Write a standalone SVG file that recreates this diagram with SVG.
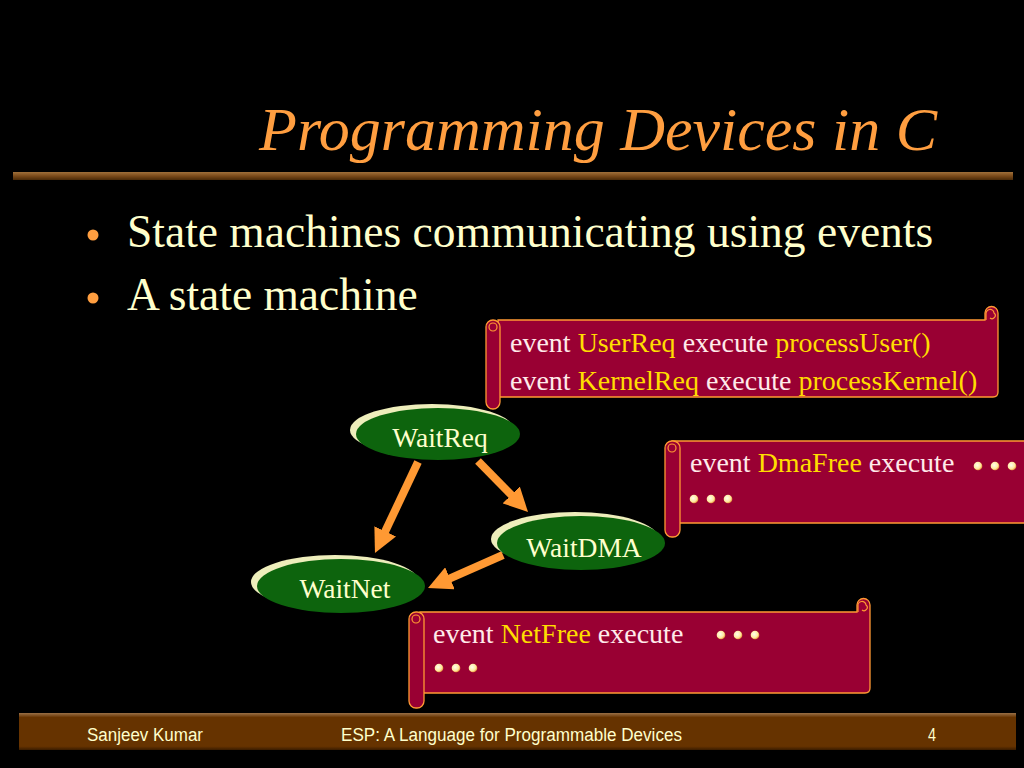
<svg xmlns="http://www.w3.org/2000/svg" width="1024" height="768" viewBox="0 0 1024 768">
<defs>
<linearGradient id="rule" x1="0" y1="0" x2="0" y2="1">
<stop offset="0" stop-color="#a0703a"/><stop offset="0.5" stop-color="#7a4a1a"/><stop offset="1" stop-color="#4a2a08"/>
</linearGradient>
<linearGradient id="foot" x1="0" y1="0" x2="0" y2="1">
<stop offset="0" stop-color="#9a7046"/><stop offset="0.12" stop-color="#663300"/><stop offset="0.9" stop-color="#663300"/><stop offset="1" stop-color="#3a1c00"/>
</linearGradient>
<radialGradient id="dot" cx="0.4" cy="0.4" r="0.6">
<stop offset="0" stop-color="#ffffee"/><stop offset="0.7" stop-color="#ffe8a0"/><stop offset="1" stop-color="#e89a40"/>
</radialGradient>
<marker id="ah" viewBox="0 0 10 10" refX="1" refY="5" markerWidth="3" markerHeight="3" orient="auto" markerUnits="strokeWidth">
<path d="M0,0 L10,5 L0,10 z" fill="#ff9933"/>
</marker>
</defs>
<style>
.ser{font-family:"Liberation Serif","Times New Roman",serif}
.title{font-style:italic;font-size:62px;fill:#ff9e40}
.bul{font-size:45.5px;fill:#ffffcc}
.bdot{fill:#ff9e40}
.scroll{fill:#990033;stroke:#ff9933;stroke-width:1.3}
.curl{fill:none;stroke:#ff9933;stroke-width:1.2}
.st{font-size:28px;fill:#ffeaea}
.hl{fill:#ffdd00}
.dot{fill:url(#dot)}
.hi{fill:#eeeebb}
.node{fill:#0d640d}
.nt{font-size:27.5px;fill:#ffffcc;text-anchor:middle}
.arr{stroke:#ff9933;stroke-width:8;fill:none;marker-end:url(#ah)}
.ft{font-family:"Liberation Sans",Arial,sans-serif;font-size:18px;fill:#ffffcc}
</style>
<rect width="1024" height="768" fill="#000"/>

<text class="ser title" x="937" y="150" text-anchor="end">Programming Devices in C</text>
<rect x="13" y="172" width="1000" height="8" fill="url(#rule)"/>

<circle class="bdot" cx="93" cy="235" r="5.5"/>
<text class="ser bul" x="127" y="247">State machines communicating using events</text>
<circle class="bdot" cx="93" cy="298" r="5.5"/>
<text class="ser bul" x="127" y="310">A state machine</text>

<g id="scroll1">
<path class="scroll" d="M985,320 L985,313 A6.5,6.5 0 0 1 998,313 L998,392 Q998,397 993,397 L498,397 L498,320 Z"/>
<path class="curl" d="M986,320 L986,314 A4,4 0 0 1 994,313 A3,3 0 0 1 990,318"/>
<rect class="scroll" x="486" y="320" width="14" height="89" rx="7"/>
<circle class="curl" cx="493" cy="327" r="4"/>
<text class="ser st" x="510" y="352">event <tspan class="hl">UserReq</tspan> execute <tspan class="hl">processUser()</tspan></text>
<text class="ser st" x="510" y="390">event <tspan class="hl">KernelReq</tspan> execute <tspan class="hl">processKernel()</tspan></text>
</g>

<g id="scroll2">
<path class="scroll" d="M672,441 L1030,441 L1030,523 L672,523 Z"/>
<rect class="scroll" x="665" y="441" width="15" height="96" rx="7"/>
<circle class="curl" cx="672" cy="448" r="4"/>
<text class="ser st" x="690" y="472">event <tspan class="hl">DmaFree</tspan> execute</text>
<circle class="dot" cx="978" cy="466" r="4.3"/>
<circle class="dot" cx="995" cy="466" r="4.3"/>
<circle class="dot" cx="1012" cy="466" r="4.3"/>
<circle class="dot" cx="694" cy="499" r="4.3"/>
<circle class="dot" cx="711" cy="499" r="4.3"/>
<circle class="dot" cx="728" cy="499" r="4.3"/>
</g>

<g id="scroll3">
<path class="scroll" d="M857,612 L857,605 A6.5,6.5 0 0 1 870,605 L870,688 Q870,693 865,693 L420,693 L420,612 Z"/>
<path class="curl" d="M858,612 L858,606 A4,4 0 0 1 866,605 A3,3 0 0 1 862,610"/>
<rect class="scroll" x="409" y="612" width="15" height="96" rx="7"/>
<circle class="curl" cx="416" cy="619" r="4"/>
<text class="ser st" x="433" y="643">event <tspan class="hl">NetFree</tspan> execute</text>
<circle class="dot" cx="721" cy="635" r="4.3"/>
<circle class="dot" cx="738" cy="635" r="4.3"/>
<circle class="dot" cx="755" cy="635" r="4.3"/>
<circle class="dot" cx="439" cy="668" r="4.3"/>
<circle class="dot" cx="456" cy="668" r="4.3"/>
<circle class="dot" cx="473" cy="668" r="4.3"/>
</g>

<g id="connectors">
<line class="arr" x1="418" y1="462" x2="384.2" y2="533.5"/>
<line class="arr" x1="478" y1="461" x2="512.9" y2="496.6"/>
<line class="arr" x1="503" y1="555" x2="447.8" y2="579.3"/>
</g>

<g id="WaitReq">
<ellipse class="hi" cx="432" cy="430" rx="82" ry="26"/>
<ellipse class="node" cx="438" cy="434" rx="82" ry="26"/>
<text class="ser nt" x="440" y="447">WaitReq</text>
</g>
<g id="WaitDMA">
<ellipse class="hi" cx="575" cy="539" rx="84" ry="27"/>
<ellipse class="node" cx="581" cy="543" rx="84" ry="27"/>
<text class="ser nt" x="584" y="557">WaitDMA</text>
</g>
<g id="WaitNet">
<ellipse class="hi" cx="335" cy="582" rx="84" ry="27"/>
<ellipse class="node" cx="341" cy="586" rx="84" ry="27"/>
<text class="ser nt" x="345" y="598">WaitNet</text>
</g>

<g id="footer">
<rect x="19" y="713" width="997" height="37" fill="url(#foot)"/>
<text class="ft" x="87" y="741" textLength="116" lengthAdjust="spacingAndGlyphs">Sanjeev Kumar</text>
<text class="ft" x="341" y="741" textLength="341" lengthAdjust="spacingAndGlyphs">ESP: A Language for Programmable Devices</text>
<text class="ft" x="928" y="741" textLength="8" lengthAdjust="spacingAndGlyphs">4</text>
</g>
</svg>
